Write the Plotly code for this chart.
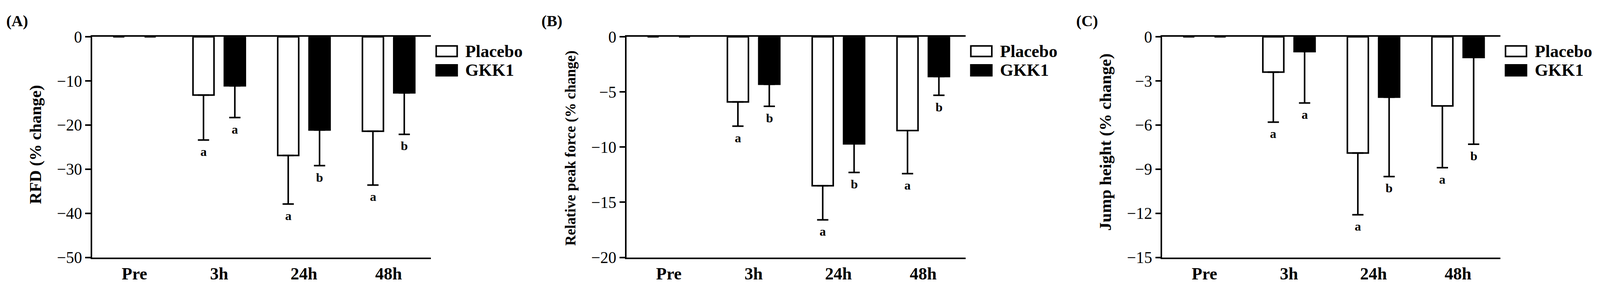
import plotly.graph_objects as go

# The photographed page shows about 4 % less than 4275x765 css pixels and
# the html body adds an 8 px margin, so positions measured on the reference
# (in its own pixels) are converted through S and BODY below.
PAGE_W, PAGE_H = 4275, 765
S = 1.0433
BODY = 8
W = int(PAGE_W / S) - 2 * BODY
H = int(PAGE_H / S) - 2 * BODY

timepoints = ["Pre", "3h", "24h", "48h"]
group_names = ["Placebo", "GKK1"]

# (A) RFD, % change from Pre (mean and downward SD)
rfd_placebo = [0, -13.2, -26.9, -21.4]
rfd_placebo_sd = [0, 10.2, 11.0, 12.2]
rfd_gkk1 = [0, -11.1, -21.1, -12.7]
rfd_gkk1_sd = [0, 7.2, 8.1, 9.4]
rfd_placebo_sig = ["", "a", "a", "a"]
rfd_gkk1_sig = ["", "a", "b", "b"]

# (B) relative peak force
rpf_placebo = [0, -5.9, -13.5, -8.5]
rpf_placebo_sd = [0, 2.2, 3.1, 3.9]
rpf_gkk1 = [0, -4.3, -9.7, -3.6]
rpf_gkk1_sd = [0, 2.0, 2.6, 1.7]
rpf_placebo_sig = ["", "a", "a", "a"]
rpf_gkk1_sig = ["", "b", "b", "b"]

# (C) jump height
jh_placebo = [0, -2.4, -7.9, -4.7]
jh_placebo_sd = [0, 3.4, 4.2, 4.2]
jh_gkk1 = [0, -1.0, -4.1, -1.4]
jh_gkk1_sd = [0, 3.5, 5.4, 5.9]
jh_placebo_sig = ["", "a", "a", "a"]
jh_gkk1_sig = ["", "a", "b", "b"]

panel_tags = ["(A)", "(B)", "(C)"]
y_titles = ["RFD (% change)", "Relative peak force (% change)", "Jump height (% change)"]
y_mins = [-50, -20, -15]
y_steps = [10, 5, 3]

# layout, in reference pixels
left_px = [246, 1673, 3104]
right_px = [1151, 2579, 4007]
top_px, bottom_px = 79, 709
title_x_px = [95, 1524, 2952]
title_y_px = [387, 397, 379]
title_size = [44, 39, 45]
tag_x_px = [46, 1474, 2903]

SERIF = "Liberation Serif, Times New Roman, serif"


def px(x):
    return (x / S - BODY) / W


def py(y):
    return 1 - (y / S - BODY) / H


def sz(v):
    return round(v / S, 1)


panels = [
    (rfd_placebo, rfd_placebo_sd, rfd_gkk1, rfd_gkk1_sd, rfd_placebo_sig, rfd_gkk1_sig),
    (rpf_placebo, rpf_placebo_sd, rpf_gkk1, rpf_gkk1_sd, rpf_placebo_sig, rpf_gkk1_sig),
    (jh_placebo, jh_placebo_sd, jh_gkk1, jh_gkk1_sd, jh_placebo_sig, jh_gkk1_sig),
]

fig = go.Figure()
annotations = []
shapes = []

for i, (p_mean, p_sd, g_mean, g_sd, p_sig, g_sig) in enumerate(panels):
    sfx = "" if i == 0 else str(i + 1)
    xa, ya = "x" + sfx, "y" + sfx

    for name, mean, sd, fill, grp in [
        (group_names[0], p_mean, p_sd, "white", "p"),
        (group_names[1], g_mean, g_sd, "black", "g"),
    ]:
        fig.add_trace(go.Bar(
            x=timepoints, y=mean, name=name,
            offsetgroup=grp,
            marker=dict(color=fill,
                        line=dict(color="black", width=[0 if v == 0 else 4 for v in mean])),
            error_y=dict(type="data", symmetric=False, array=[0] * len(sd),
                         arrayminus=sd, color="black", thickness=4, width=sz(15)),
            xaxis=xa, yaxis=ya, showlegend=False,
        ))

    # significance letters under the error caps
    for mean, sd, sig, shift in [(p_mean, p_sd, p_sig, -42), (g_mean, g_sd, g_sig, 42)]:
        for t, m, s, lab in zip(timepoints, mean, sd, sig):
            if not lab:
                continue
            annotations.append(dict(
                x=t, y=m - s, xref=xa, yref=ya, xshift=sz(shift), yshift=sz(-31),
                text=lab, showarrow=False, yanchor="middle",
                font=dict(family=SERIF, size=sz(34), color="black", weight="bold"),
            ))

    dom_x = [px(left_px[i]), px(right_px[i])]
    dom_y = [py(bottom_px), py(top_px)]
    fig.layout["xaxis" + sfx] = dict(
        domain=dom_x, anchor=ya, range=[-0.5, 3.5],
        showline=True, linewidth=4, linecolor="black", mirror=True,
        ticks="", showgrid=False, zeroline=False,
        tickfont=dict(family=SERIF, size=sz(46), color="black", weight="bold"),
    )
    fig.layout["yaxis" + sfx] = dict(
        domain=dom_y, anchor=xa, range=[y_mins[i], 0],
        tick0=0, dtick=y_steps[i],
        showline=True, linewidth=4, linecolor="black",
        ticks="outside", ticklen=sz(14), tickwidth=4, tickcolor="black",
        showgrid=False, zeroline=False,
        tickfont=dict(family=SERIF, size=sz(43), color="black"),
    )

    # y-axis title
    annotations.append(dict(
        x=px(title_x_px[i]), y=py(title_y_px[i]), xref="paper", yref="paper",
        text=y_titles[i], textangle=-90, showarrow=False,
        xanchor="center", yanchor="middle",
        font=dict(family=SERIF, size=sz(title_size[i]), color="black", weight="bold"),
    ))
    # panel tag
    annotations.append(dict(
        x=px(tag_x_px[i]), y=py(33), xref="paper", yref="paper",
        text=panel_tags[i], showarrow=False, xanchor="center", yanchor="middle",
        font=dict(family=SERIF, size=sz(42), color="black", weight="bold"),
    ))

    # drawn legend to the right of each panel
    r = right_px[i]
    for (y0, y1), fill, name in [((105, 135), "white", group_names[0]),
                                 ((159, 190), "black", group_names[1])]:
        shapes.append(dict(
            type="rect", xref="paper", yref="paper",
            x0=px(r + 14), x1=px(r + 70), y0=py(y1), y1=py(y0),
            line=dict(color="black", width=4), fillcolor=fill,
        ))
        annotations.append(dict(
            x=px(r + 90), y=py((y0 + y1) / 2), xref="paper", yref="paper",
            text=name, showarrow=False, xanchor="left", yanchor="middle",
            font=dict(family=SERIF, size=sz(46), color="black", weight="bold"),
        ))

fig.update_layout(
    width=W, height=H,
    margin=dict(l=0, r=0, t=0, b=0),
    paper_bgcolor="white", plot_bgcolor="white",
    barmode="group", bargap=0.26, bargroupgap=0.33,
    showlegend=False,
    annotations=annotations, shapes=shapes,
)

fig.write_html("out.html")
